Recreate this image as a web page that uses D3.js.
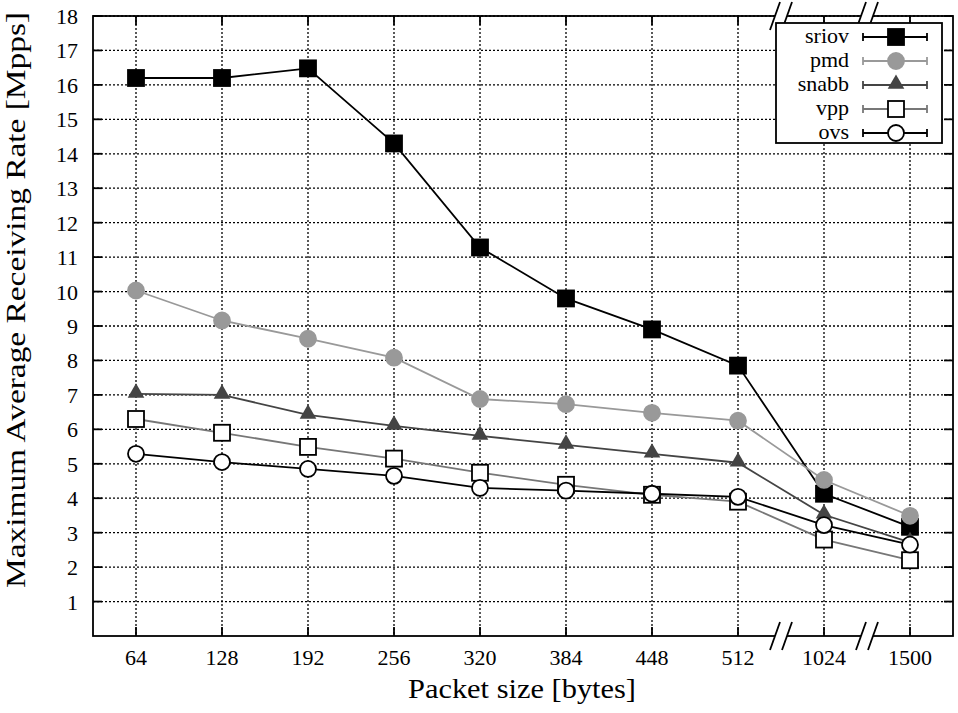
<!DOCTYPE html>
<html>
<head>
<meta charset="utf-8">
<script src="https://cdn.jsdelivr.net/npm/d3@7"></script>
<style>
body{margin:0;background:#fff;}
text{font-family:"Liberation Serif","DejaVu Serif",serif;fill:#000;}
</style>
</head>
<body>
<svg id="chart" width="958" height="713"></svg>
<script>
// packet sizes (categorical, axis is broken after 512)
var sizes = ["64","128","192","256","320","384","448","512","1024","1500"];
var yTicks = [1,2,3,4,5,6,7,8,9,10,11,12,13,14,15,16,17,18];

var sriov = [16.2,16.2,16.48,14.3,11.28,9.8,8.9,7.85,4.13,3.17];
var pmd   = [10.03,9.16,8.63,8.08,6.88,6.73,6.48,6.25,4.53,3.49];
var snabb = [7.03,7.0,6.42,6.1,5.81,5.55,5.29,5.03,3.52,2.72];
var vpp   = [6.3,5.9,5.49,5.15,4.74,4.39,4.1,3.9,2.8,2.2];
var ovs   = [5.29,5.05,4.85,4.65,4.3,4.22,4.13,4.04,3.22,2.65];

var names  = ["sriov","pmd","snabb","vpp","ovs"];
var series = [sriov,pmd,snabb,vpp,ovs];
var lineCol = ["#000","#999","#444","#777","#000"];
var markFill = ["#000","#999","#444","#fff","#fff"];
var markStroke = ["#000","#999","#444","#000","#000"];
var markType = ["square","circle","triangle","square","circle"];

var L=93, R=953, T=16, B=636;
var svg = d3.select("#chart");

var x = d3.scaleLinear().domain([-0.5,9.5]).range([L,R]);
var y = d3.scaleLinear().domain([0,18]).range([B,T]);

// grid
var grid = svg.append("g");
grid.selectAll("line.gy").data(yTicks).enter().append("line")
	.attr("x1",L).attr("x2",R)
	.attr("y1",function(d){return y(d);}).attr("y2",function(d){return y(d);})
	.attr("stroke","#000").attr("stroke-width",1.3).attr("stroke-dasharray","2,2");
grid.selectAll("line.gx").data(sizes).enter().append("line")
	.attr("x1",function(d,i){return x(i);}).attr("x2",function(d,i){return x(i);})
	.attr("y1",T).attr("y2",B)
	.attr("stroke","#000").attr("stroke-width",1.3).attr("stroke-dasharray","2,2");

// frame + ticks
var axes = svg.append("g").attr("stroke","#000").attr("stroke-width",1.8);
axes.append("rect").attr("x",L).attr("y",T).attr("width",R-L).attr("height",B-T).attr("fill","none");
yTicks.forEach(function(d){
	axes.append("line").attr("x1",L).attr("x2",L+9).attr("y1",y(d)).attr("y2",y(d));
	axes.append("line").attr("x1",R).attr("x2",R-9).attr("y1",y(d)).attr("y2",y(d));
});
sizes.forEach(function(d,i){
	axes.append("line").attr("x1",x(i)).attr("x2",x(i)).attr("y1",B).attr("y2",B-9);
	axes.append("line").attr("x1",x(i)).attr("x2",x(i)).attr("y1",T).attr("y2",T+9);
});

// axis breaks
[7.5,8.5].forEach(function(b){
	var cx = x(b);
	[T,B].forEach(function(cy){
		svg.append("polygon")
			.attr("points",[[cx-11,cy+14],[cx-1,cy-14],[cx+11,cy-14],[cx+1,cy+14]].join(" "))
			.attr("fill","#fff");
		[-6,6].forEach(function(o){
			svg.append("line").attr("x1",cx+o-5).attr("y1",cy+14).attr("x2",cx+o+5).attr("y2",cy-14)
				.attr("stroke","#000").attr("stroke-width",1.8);
		});
	});
});

// tick labels
svg.selectAll("text.yl").data(yTicks).enter().append("text")
	.attr("x",L-15).attr("y",function(d){return y(d)+8;})
	.attr("text-anchor","end").attr("font-size",22).text(function(d){return d;});
svg.selectAll("text.xl").data(sizes).enter().append("text")
	.attr("x",function(d,i){return x(i);}).attr("y",665)
	.attr("text-anchor","middle").attr("font-size",22).text(function(d){return d;});

svg.append("text").attr("x",522).attr("y",698).attr("text-anchor","middle")
	.attr("font-size",28).attr("textLength",228).attr("lengthAdjust","spacingAndGlyphs")
	.text("Packet size [bytes]");
svg.append("text").attr("transform","translate(25,300) rotate(-90)")
	.attr("text-anchor","middle").attr("font-size",27)
	.attr("textLength",576).attr("lengthAdjust","spacingAndGlyphs")
	.text("Maximum Average Receiving Rate [Mpps]");

function drawMarker(g,type,cx,cy,fill,stroke){
	if(type=="square"){
		g.append("rect").attr("x",cx-8).attr("y",cy-8).attr("width",16).attr("height",16)
			.attr("fill",fill).attr("stroke",stroke).attr("stroke-width",1.8);
	}else if(type=="circle"){
		g.append("circle").attr("cx",cx).attr("cy",cy).attr("r",8)
			.attr("fill",fill).attr("stroke",stroke).attr("stroke-width",1.8);
	}else{
		g.append("path").attr("d",d3.symbol().type(d3.symbolTriangle).size(120)())
			.attr("transform","translate("+cx+","+(cy-1)+")").attr("fill",fill);
	}
}

var line = d3.line().x(function(d,i){return x(i);}).y(function(d){return y(d);});
series.forEach(function(s,k){
	var g = svg.append("g");
	g.append("path").datum(s).attr("d",line).attr("fill","none")
		.attr("stroke",lineCol[k]).attr("stroke-width",1.8);
	s.forEach(function(v,i){
		drawMarker(g,markType[k],x(i),y(v),markFill[k],markStroke[k]);
	});
});

// legend
var lg = svg.append("g");
lg.append("rect").attr("x",776).attr("y",23).attr("width",166).attr("height",120)
	.attr("fill","#fff").attr("stroke","#000").attr("stroke-width",1.8);
names.forEach(function(n,k){
	var ly = 37+k*24;
	lg.append("text").attr("x",849).attr("y",ly+6).attr("text-anchor","end").attr("font-size",22).text(n);
	lg.append("line").attr("x1",863).attr("x2",927).attr("y1",ly).attr("y2",ly)
		.attr("stroke",lineCol[k]).attr("stroke-width",1.8);
	[863,927].forEach(function(ex){
		lg.append("line").attr("x1",ex).attr("x2",ex).attr("y1",ly-4).attr("y2",ly+4)
			.attr("stroke",lineCol[k]).attr("stroke-width",1.8);
	});
	drawMarker(lg,markType[k],896,ly,markFill[k],markStroke[k]);
});
</script>
</body>
</html>
